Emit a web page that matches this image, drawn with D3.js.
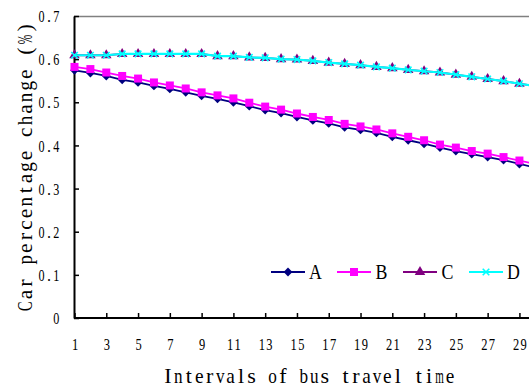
<!DOCTYPE html>
<html><head><meta charset="utf-8">
<script src="https://cdn.jsdelivr.net/npm/d3@7"></script>
<style>body{margin:0;background:#fff}svg{display:block}text{font-family:"Liberation Serif","Times New Roman",serif;fill:#000}</style>
</head><body><svg id="c" width="529" height="386"></svg>
<script>
const intervals = d3.range(1, 31);
const seriesNames = ["A", "B", "C", "D"];
const seriesA = [0.574,0.568,0.561,0.552,0.546,0.538,0.531,0.523,0.515,0.508,0.500,0.491,0.482,0.475,0.466,0.458,0.451,0.442,0.436,0.429,0.420,0.412,0.404,0.395,0.387,0.380,0.373,0.366,0.357,0.349];
const seriesB = [0.582,0.577,0.569,0.561,0.555,0.546,0.539,0.532,0.523,0.516,0.509,0.499,0.490,0.483,0.474,0.466,0.459,0.450,0.444,0.437,0.428,0.420,0.412,0.402,0.395,0.387,0.381,0.373,0.365,0.357];
const seriesC = [0.609,0.609,0.609,0.612,0.612,0.612,0.612,0.612,0.612,0.607,0.607,0.604,0.603,0.600,0.599,0.596,0.592,0.589,0.586,0.582,0.579,0.575,0.572,0.569,0.564,0.559,0.554,0.549,0.543,0.538];
const seriesD = [0.609,0.609,0.609,0.612,0.612,0.612,0.612,0.612,0.612,0.607,0.607,0.604,0.603,0.600,0.599,0.596,0.592,0.589,0.586,0.582,0.579,0.575,0.572,0.569,0.564,0.559,0.554,0.549,0.543,0.538];
const xTicks = [1,3,5,7,9,11,13,15,17,19,21,23,25,27,29];
const yTicks = [0,0.1,0.2,0.3,0.4,0.5,0.6,0.7];
const yTickLabels = ["0","0.1","0.2","0.3","0.4","0.5","0.6","0.7"];
const colors = ["#000080","#FF00FF","#800080","#00FFFF"];
const xTitle = "Intervals of bus travel time";
const yTitle = "Car percentage change (%)";

(function () {
const svg = d3.select("#c");
const pLeft = 74, pTop = 16, pBottom = 318;
const x = d3.scaleLinear().domain([1, 30]).range([74.5, 74.5 + 29 * 15.89]);
const y = d3.scaleLinear().domain([0, 0.7]).range([pBottom, pTop]);

// lay the characters of a text element on a fixed-width grid (monospace look)
function monoify(node, advance, anchor, x0) {
  const s = node.textContent;
  const t = d3.select(node).attr("text-anchor", "start").attr("x", null);
  t.text(null);
  const total = s.length * advance;
  const start = anchor === "end" ? -total : anchor === "middle" ? -total / 2 : 0;
  const maxW = advance * 0.82;
  for (let i = 0; i < s.length; i++) {
    const ts = t.append("tspan").text(s[i]).attr("x", 0);
    let w = ts.node().getComputedTextLength();
    if (w > maxW) {
      ts.attr("textLength", maxW).attr("lengthAdjust", "spacingAndGlyphs");
      w = maxW;
    }
    ts.attr("x", x0 + start + (i + 0.5) * advance - w / 2);
  }
}

svg.append("line").attr("x1", pLeft).attr("x2", 560).attr("y1", pTop + 0.5).attr("y2", pTop + 0.5)
  .attr("stroke", "#808080").attr("stroke-width", 1.5);

const yAxis = svg.append("g").attr("transform", `translate(${pLeft},0)`)
  .call(d3.axisLeft(y).tickValues(yTicks).tickSizeInner(-5).tickSizeOuter(0).tickPadding(14)
    .tickFormat((d, i) => yTickLabels[i]));
const xAxis = svg.append("g").attr("transform", `translate(0,${pBottom})`)
  .call(d3.axisBottom(x).tickValues(xTicks).tickSizeInner(-5).tickSizeOuter(0).tickPadding(20)
    .tickFormat(d3.format("d")));
[yAxis, xAxis].forEach(g => {
  g.select(".domain").attr("stroke", "#000").attr("stroke-width", 2);
  g.selectAll(".tick line").attr("stroke", "#000").attr("stroke-width", 1.5);
  g.selectAll("text").style("font-family", '"Liberation Serif", serif').attr("font-size", 16)
    .attr("fill", "#000");
});
xAxis.select(".domain").attr("d", `M${pLeft},0H560`);
xAxis.selectAll(".tick text").attr("dy", null).attr("y", 32).each(function () { monoify(this, 7.6, "middle", 0); });
yAxis.selectAll(".tick text").attr("dy", null).attr("y", 5.6).each(function () { monoify(this, 7.4, "end", -14); });

const data = [seriesA, seriesB, seriesC, seriesD];
const line = d3.line().x((d, i) => x(intervals[i])).y(d => y(d));
const markerPath = [
  d3.symbol().type(d3.symbolDiamond2).size(50)(),
  d3.symbol().type(d3.symbolSquare).size(64)(),
  d3.symbol().type(d3.symbolTriangle).size(48)(),
  d3.symbol().type(d3.symbolTimes).size(30)()
];
function drawMarker(g, k, cx, cy) {
  const p = g.append("path").attr("d", markerPath[k]).attr("transform", `translate(${cx},${cy})`);
  if (k === 3) p.attr("fill", "none").attr("stroke", colors[k]).attr("stroke-width", 1.6);
  else p.attr("fill", colors[k]);
}
data.forEach((vals, k) => {
  const g = svg.append("g");
  g.append("path").datum(vals).attr("d", line).attr("fill", "none")
    .attr("stroke", colors[k]).attr("stroke-width", k === 3 ? 2.2 : 1.8);
  vals.forEach((v, i) => drawMarker(g, k, x(intervals[i]), y(v)));
});

const legX = [271, 337, 403, 469];
seriesNames.forEach((n, k) => {
  const g = svg.append("g");
  g.append("line").attr("x1", legX[k]).attr("x2", legX[k] + 34).attr("y1", 272).attr("y2", 272)
    .attr("stroke", colors[k]).attr("stroke-width", 2);
  drawMarker(g, k, legX[k] + 17, 272);
  g.append("text").attr("x", legX[k] + 44.5).attr("y", 279).attr("font-size", 21)
    .attr("text-anchor", "middle").attr("transform", `translate(${legX[k] + 44.5},0) scale(0.85,1) translate(${-(legX[k] + 44.5)},0)`)
    .text(n);
});

const xt = svg.append("text").attr("y", 382.5).attr("font-size", 22).text(xTitle);
monoify(xt.node(), 10.45, "middle", 309);
const yt = svg.append("text").attr("transform", "translate(32,167) rotate(-90)").attr("y", 0)
  .attr("font-size", 22).text(yTitle);
monoify(yt.node(), 11.6, "middle", 0);
})();
</script></body></html>
